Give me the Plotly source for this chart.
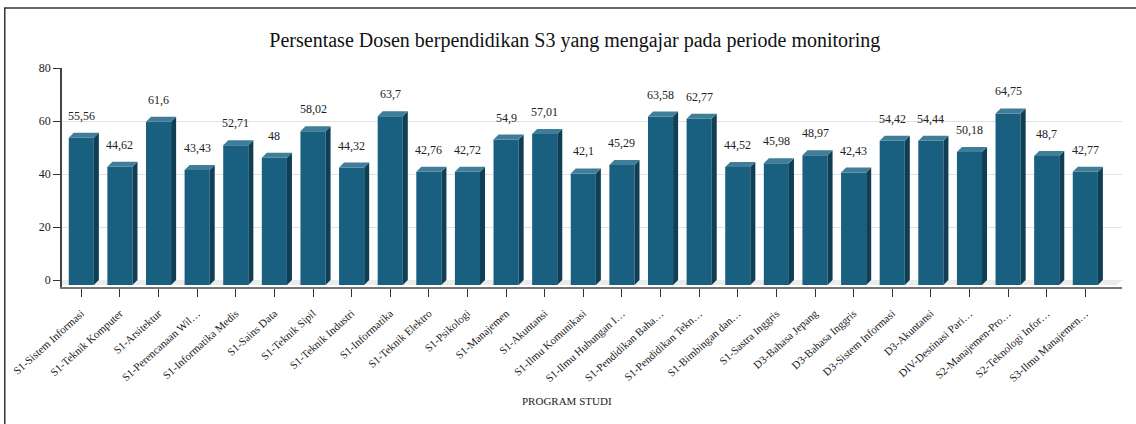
import plotly.graph_objects as go

prodi = ['S1-Sistem Informasi', 'S1-Teknik Komputer', 'S1-Arsitektur', 'S1-Perencanaan Wil…',
         'S1-Informatika Medis', 'S1-Sains Data', 'S1-Teknik Sipil', 'S1-Teknik Industri',
         'S1-Informatika', 'S1-Teknik Elektro', 'S1-Psikologi', 'S1-Manajemen', 'S1-Akuntansi',
         'S1-Ilmu Komunikasi', 'S1-Ilmu Hubungan I…', 'S1-Pendidikan Baha…', 'S1-Pendidikan Tekn…',
         'S1-Bimbingan dan…', 'S1-Sastra Inggris', 'D3-Bahasa Jepang', 'D3-Bahasa Inggris',
         'D3-Sistem Informasi', 'D3-Akuntansi', 'DIV-Destinasi Pari…', 'S2-Manajemen-Pro…',
         'S2-Teknologi Infor…', 'S3-Ilmu Manajemen…']
persen = [55.56, 44.62, 61.6, 43.43, 52.71, 48, 58.02, 44.32, 63.7, 42.76, 42.72, 54.9, 57.01,
          42.1, 45.29, 63.58, 62.77, 44.52, 45.98, 48.97, 42.43, 54.42, 54.44, 50.18, 64.75,
          48.7, 42.77]

FRONT = '#185f80'
SIDE = '#0f3e55'
TOP = '#3f7d99'
SERIF = 'Liberation Serif'

# 3d look: depth offset in data units
w = 0.65
dx = 0.13
dy = 1.9
xs = list(range(len(prodi)))
xmax = len(prodi) - 0.05

fig = go.Figure()
fig.add_trace(go.Bar(x=xs, y=persen, base=-dy, width=w, marker_color=FRONT,
                     marker_line_width=0, hoverinfo='skip'))

shapes = []
# floor
shapes.append(dict(type='path', xref='x', yref='y', layer='between', line_width=0,
                   fillcolor='#ebebeb',
                   path=f'M -0.5,{-dy} L -0.5,0 L {xmax},0 L {xmax - dx},{-dy} Z'))
for x, v in zip(xs, persen):
    r = x + w / 2
    l = x - w / 2
    shapes.append(dict(type='path', xref='x', yref='y', layer='above', line_width=0,
                       fillcolor=SIDE,
                       path=f'M {r},{-dy} L {r + dx},0 L {r + dx},{v} L {r},{v - dy} Z'))
    shapes.append(dict(type='path', xref='x', yref='y', layer='above', line_width=0,
                       fillcolor=TOP,
                       path=f'M {l},{v - dy} L {l + dx},{v} L {r + dx},{v} L {r},{v - dy} Z'))

# outer frame
shapes.append(dict(type='rect', xref='paper', yref='paper', x0=-0.054, x1=1.05, y0=-0.7, y1=1.274,
                   line=dict(color='#333333', width=1.5), fillcolor='rgba(0,0,0,0)'))

annotations = [dict(x=x, y=v, text=f'{v:g}'.replace('.', ','), showarrow=False,
                    yanchor='bottom', yshift=8, font=dict(family=SERIF, size=12, color='#222'))
               for x, v in zip(xs, persen)]
annotations.append(dict(x=0.476, y=-0.52, xref='paper', yref='paper', text='PROGRAM STUDI',
                        showarrow=False, yanchor='middle',
                        font=dict(family=SERIF, size=11, color='#222')))

fig.update_layout(
    width=1136, height=424,
    margin=dict(l=62, r=14, t=68, b=137),
    paper_bgcolor='white', plot_bgcolor='white',
    showlegend=False,
    title=dict(text='Persentase Dosen berpendidikan S3 yang mengajar pada periode monitoring',
               x=0.506, xref='container', y=0.906, yanchor='middle',
               font=dict(family=SERIF, size=20, color='#111')),
    shapes=shapes, annotations=annotations,
)
fig.update_xaxes(range=[-0.5, xmax], tickvals=xs, ticktext=prodi, tickangle=-42,
                 showgrid=False, zeroline=False, showline=True, linecolor='#777', linewidth=1.5,
                 ticks='outside', ticklen=8, tickcolor='#333', automargin=False,
                 ticklabelstandoff=6,
                 tickfont=dict(family=SERIF, size=11, color='#222'))
fig.update_yaxes(range=[-dy - 0.74, 80], tickvals=[0, 20, 40, 60, 80], showgrid=True,
                 gridcolor='#e2e2e2', zeroline=False, showline=True, linecolor='#444', linewidth=1.5,
                 ticks='outside', ticklen=7, tickcolor='#333', automargin=False,
                 tickfont=dict(family=SERIF, size=12, color='#222'))

fig.write_html('out.html', config={'displayModeBar': False},
               post_script="document.body.style.margin='0';")
